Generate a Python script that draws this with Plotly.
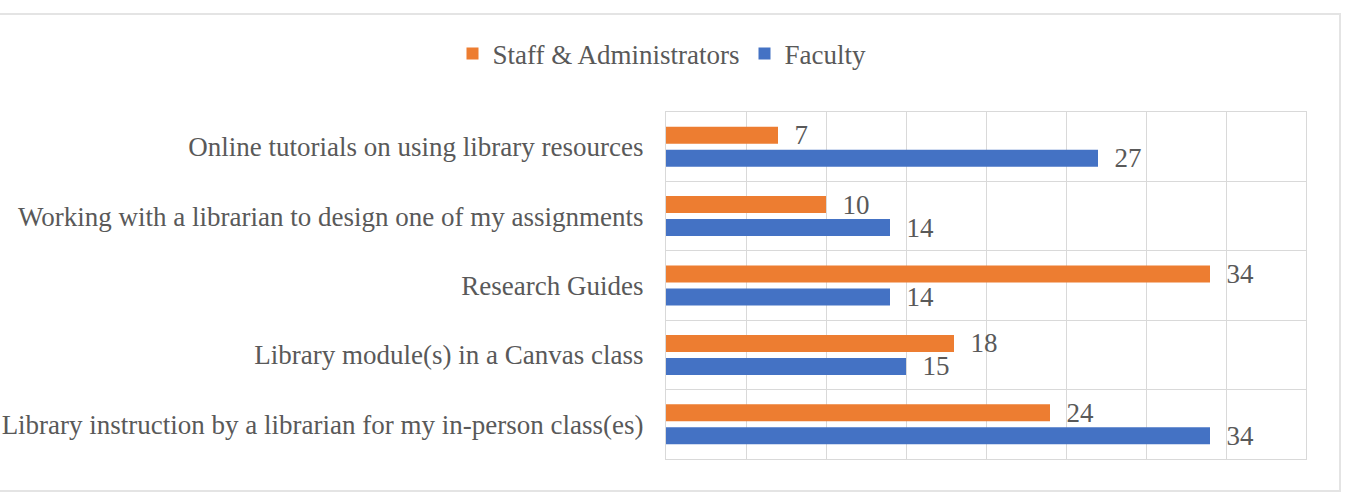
import plotly.graph_objects as go

# Data (categories listed bottom-to-top)
categories = [
    "Library instruction by a librarian for my in-person class(es)",
    "Library module(s) in a Canvas class",
    "Research Guides",
    "Working with a librarian to design one of my assignments",
    "Online tutorials on using library resources",
]
faculty = [34, 15, 14, 14, 27]
staff_admin = [24, 18, 34, 10, 7]

W, H = 1350, 498
PL, PR, PT, PB = 666, 1306, 112, 459  # plot area in pixels

FONT = "Liberation Serif, Times New Roman, serif"
GRAY = "#595959"
GRID = "#d9d9d9"
FS = 27

fig = go.Figure()
fig.add_trace(go.Bar(
    name="Faculty", y=categories, x=faculty, orientation="h",
    marker=dict(color="#4472C4", line=dict(width=0)),
    text=["\u00a0\u00a0" + str(v) for v in faculty],
    textposition="outside", constraintext="none", cliponaxis=False,
    textfont=dict(family=FONT, size=FS, color=GRAY),
))
fig.add_trace(go.Bar(
    name="Staff & Administrators", y=categories, x=staff_admin, orientation="h",
    marker=dict(color="#ED7D31", line=dict(width=0)),
    text=["\u00a0\u00a0" + str(v) for v in staff_admin],
    textposition="outside", constraintext="none", cliponaxis=False,
    textfont=dict(family=FONT, size=FS, color=GRAY),
))

def px_x(p):
    return (p - PL) / (PR - PL)

def px_y(p):
    return (PB - p) / (PB - PT)

# outer chart border
fig.add_shape(type="rect", xref="paper", yref="paper",
              x0=px_x(-3), x1=px_x(1340), y0=px_y(491), y1=px_y(14),
              line=dict(color="#e4e4e4", width=2), layer="below")

fig.update_layout(
    width=W, height=H,
    margin=dict(l=PL, r=W - PR, t=PT, b=H - PB, pad=0, autoexpand=False),
    paper_bgcolor="white", plot_bgcolor="white",
    barmode="group", bargap=0.337, bargroupgap=0.26,
    font=dict(family=FONT, size=FS, color=GRAY),
    showlegend=True,
    legend=dict(orientation="h", traceorder="reversed",
                xref="container", yref="container",
                x=662 / W, xanchor="center", y=1 - 54 / H, yanchor="middle",
                font=dict(family=FONT, size=FS, color=GRAY),
                bgcolor="rgba(0,0,0,0)", itemwidth=30),
    xaxis=dict(range=[0, 40], dtick=5, tick0=0, showticklabels=False,
               showgrid=True, gridcolor=GRID, gridwidth=1.3,
               zeroline=False, showline=True, mirror=True, automargin=False,
               linecolor=GRID, linewidth=1.3, ticks=""),
    yaxis=dict(type="category", tickson="boundaries", showgrid=True,
               gridcolor=GRID, gridwidth=1.3, showline=True, mirror=True,
               linecolor=GRID, linewidth=1.3, ticks="", automargin=False,
               ticklabelstandoff=16,
               tickfont=dict(family=FONT, size=FS, color=GRAY)),
)

fig.write_html("out.html")
